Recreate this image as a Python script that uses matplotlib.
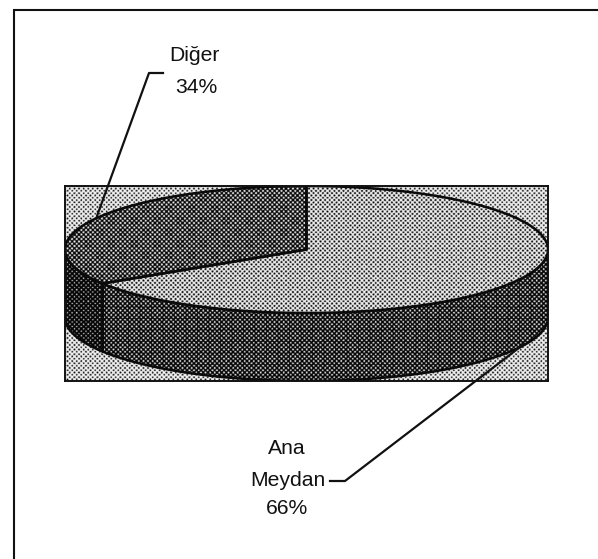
import numpy as np
import matplotlib
matplotlib.use("Agg")
import matplotlib.pyplot as plt
from matplotlib.patches import Polygon, Rectangle

categories = ["Ana\nMeydan", "Diğer"]
values = [66, 34]
W, H = 598, 559
plt.rcParams['font.family'] = ['Liberation Sans', 'DejaVu Sans']

fig = plt.figure(figsize=(W/100, H/100), dpi=100, facecolor='white')

def px_rect(x0, y0, x1, y1):
    return [x0/W, 1-y1/H, (x1-x0)/W, (y1-y0)/H]

bg = fig.add_axes([0, 0, 1, 1]); bg.set_xlim(0, W); bg.set_ylim(H, 0); bg.axis('off')
# the outer frame only shows on its top and left sides
bg.plot([13.5, 13.5, 598], [559, 9.5, 9.5], color='#111111', lw=1.5, solid_joinstyle='miter')

ax = fig.add_axes(px_rect(65, 186, 548, 381))
h_units = 195/63.5
ax.set_xlim(-1, 1); ax.set_ylim(1-h_units, 1)
ax.set_xticks([]); ax.set_yticks([])
depth = 68/63.5

# halftone texture in screen pixels
yy, xx = np.mgrid[0:195*2, 0:483*2]
def halftone(level):
    u = (xx+yy)*np.pi/4.6; v = (xx-yy)*np.pi/4.6
    s = 0.5+0.25*(np.cos(u)+np.cos(v))
    return np.where(s > level, 1.0, 0.0)*0.92+0.02
ext = (-1, 1, 1-h_units, 1)
def fill(path_patch, level, z):
    ax.add_patch(path_patch)
    path_patch.set(facecolor='none', edgecolor='none')
    im = ax.imshow(halftone(level), cmap='gray', vmin=0, vmax=1, extent=ext,
                   aspect='auto', interpolation='bilinear', zorder=z)
    im.set_clip_path(path_patch)

start = 90.0
a_diger0 = start
a_diger1 = start + 360*values[1]/sum(values)
a_ana1 = a_diger1 + 360*values[0]/sum(values)

def arc(a0, a1, n=200):
    t = np.radians(np.linspace(a0, a1, n))
    return np.cos(t), np.sin(t)

def wedge_poly(a0, a1):
    x, y = arc(a0, a1)
    return np.column_stack([np.r_[0, x], np.r_[0, y]])

def wall_poly(a0, a1):
    x, y = arc(a0, a1)
    return np.column_stack([np.r_[x, x[::-1]], np.r_[y, y[::-1]-depth]])

box = Rectangle((-1, 1-h_units), 2, h_units, transform=ax.transData)
fill(box, 0.32, 1)

lc = '#0a0a0a'
parts = [
    (wall_poly(180, a_diger1), 0.80, 2),
    (wall_poly(a_diger1, 360), 0.67, 2),
    (wedge_poly(a_diger1, a_ana1), 0.38, 3),
    (wedge_poly(a_diger0, a_diger1), 0.60, 3),
]
for pts, lev, z in parts:
    fill(Polygon(pts, closed=True), lev, z)
    ax.add_patch(Polygon(pts, closed=True, fill=False, ec=lc, lw=1.8, zorder=z+0.5, joinstyle='round'))

for s in ax.spines.values():
    s.set_linewidth(1.4); s.set_color('#111111'); s.set_zorder(6)

# labels and leader lines
tk = dict(ha='center', va='center', fontsize=15.2, color='#111111')
bg.text(194, 55.5, "Diğer", **tk)
bg.text(196, 87.5, f"{values[1]}%", **tk)
bg.text(287, 448, "Ana", **tk)
bg.text(288, 480, "Meydan", **tk)
bg.text(287, 509, f"{values[0]}%", **tk)
fig.add_artist(plt.Line2D([163/W, 149/W, 97/W], [1-73/H, 1-73/H, 1-216/H], color='#111111', lw=1.6))
fig.add_artist(plt.Line2D([330/W, 345/W, 524/W], [1-481/H, 1-481/H, 1-344/H], color='#111111', lw=1.6))

fig.savefig("out.png", dpi=100)
